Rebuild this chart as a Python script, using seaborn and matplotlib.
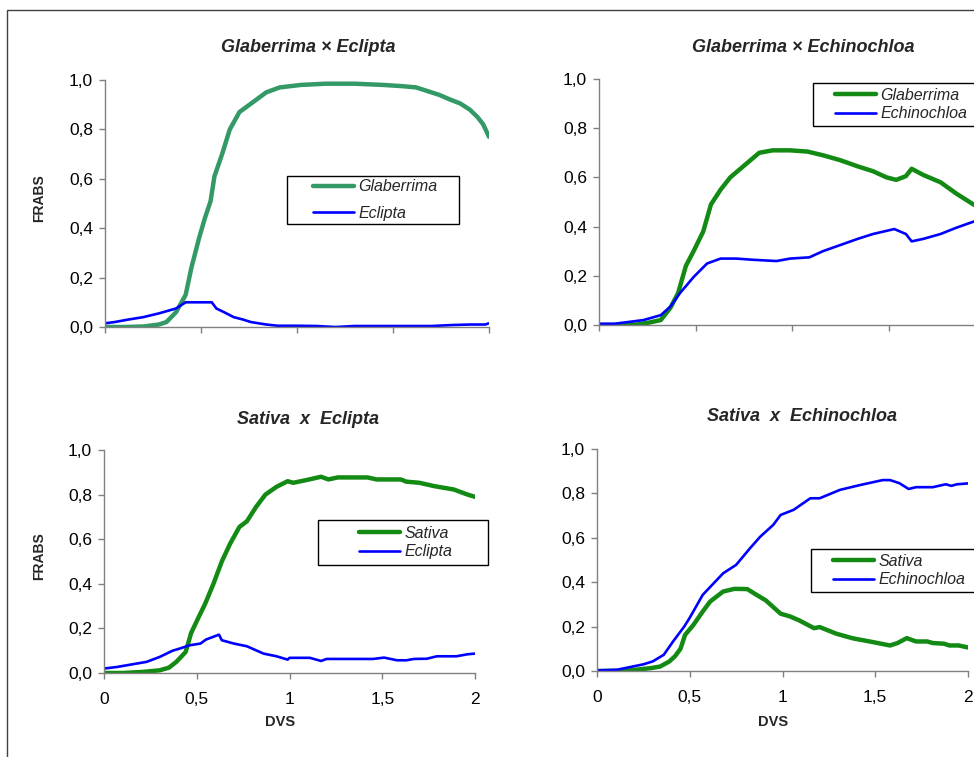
import numpy as np
import pandas as pd
import matplotlib
matplotlib.use("Agg")
import matplotlib.pyplot as plt
from matplotlib.patches import Rectangle
import seaborn as sns

# %%
# data (DVS vs FRABS)
tl_gla_x = [0, 0.1, 0.2, 0.23, 0.28, 0.32, 0.37, 0.42, 0.45, 0.49, 0.52, 0.55, 0.57, 0.61, 0.65, 0.70,
            0.77, 0.84, 0.91, 1.02, 1.15, 1.30, 1.45, 1.55, 1.62, 1.68, 1.74, 1.80, 1.85, 1.90, 1.94, 1.97, 2.0]
tl_gla_y = [0, 0, 0.002, 0.005, 0.01, 0.02, 0.06, 0.13, 0.24, 0.36, 0.44, 0.51, 0.61, 0.70, 0.80, 0.87,
            0.91, 0.95, 0.97, 0.98, 0.985, 0.985, 0.98, 0.975, 0.97, 0.955, 0.94, 0.92, 0.905, 0.88, 0.85, 0.82, 0.77]
tl_ecl_x = [0, 0.05, 0.12, 0.2, 0.28, 0.37, 0.42, 0.50, 0.556, 0.58, 0.62, 0.67, 0.72, 0.76, 0.80, 0.84,
            0.90, 1.0, 1.1, 1.2, 1.3, 1.5, 1.7, 1.81, 1.9, 1.98, 2.0]
tl_ecl_y = [0.015, 0.02, 0.03, 0.04, 0.055, 0.075, 0.10, 0.10, 0.10, 0.075, 0.06, 0.04, 0.03, 0.02, 0.015, 0.01,
            0.005, 0.005, 0.004, 0.0, 0.004, 0.004, 0.004, 0.008, 0.01, 0.01, 0.015]

tr_gla_x = [0, 0.1, 0.2, 0.26, 0.32, 0.37, 0.41, 0.45, 0.49, 0.54, 0.58, 0.63, 0.68, 0.77, 0.83, 0.90,
            0.99, 1.08, 1.16, 1.25, 1.34, 1.42, 1.49, 1.54, 1.59, 1.62, 1.68, 1.77, 1.85, 1.94, 2.0]
tr_gla_y = [0, 0, 0.002, 0.01, 0.02, 0.07, 0.13, 0.24, 0.30, 0.38, 0.49, 0.55, 0.60, 0.66, 0.70, 0.71,
            0.71, 0.705, 0.69, 0.67, 0.645, 0.625, 0.60, 0.59, 0.605, 0.635, 0.61, 0.58, 0.535, 0.49, 0.47]
tr_ech_x = [0, 0.08, 0.13, 0.23, 0.32, 0.37, 0.42, 0.49, 0.56, 0.63, 0.71, 0.80, 0.92, 0.99, 1.09, 1.16,
            1.25, 1.34, 1.42, 1.53, 1.59, 1.62, 1.68, 1.77, 1.85, 1.94, 2.0]
tr_ech_y = [0.005, 0.005, 0.01, 0.02, 0.04, 0.075, 0.13, 0.195, 0.25, 0.27, 0.27, 0.265, 0.26, 0.27, 0.275, 0.30,
            0.325, 0.35, 0.37, 0.39, 0.37, 0.34, 0.35, 0.37, 0.395, 0.42, 0.43]

bl_sat_x = [0, 0.1, 0.21, 0.30, 0.35, 0.39, 0.44, 0.47, 0.51, 0.545, 0.59, 0.635, 0.68, 0.73, 0.77, 0.82,
            0.87, 0.93, 0.99, 1.02, 1.09, 1.17, 1.21, 1.26, 1.42, 1.47, 1.60, 1.63, 1.70, 1.78, 1.885, 1.96, 2.0]
bl_sat_y = [0, 0, 0.005, 0.012, 0.024, 0.05, 0.094, 0.18, 0.25, 0.31, 0.40, 0.50, 0.58, 0.655, 0.68, 0.745,
            0.80, 0.835, 0.86, 0.853, 0.865, 0.88, 0.868, 0.877, 0.877, 0.868, 0.868, 0.858, 0.853, 0.838, 0.823, 0.80, 0.79]
bl_ecl_x = [0, 0.07, 0.16, 0.23, 0.30, 0.37, 0.41, 0.46, 0.52, 0.55, 0.62, 0.635, 0.70, 0.77, 0.86, 0.93,
            0.99, 1.0, 1.11, 1.17, 1.20, 1.45, 1.51, 1.58, 1.63, 1.67, 1.74, 1.795, 1.90, 1.96, 2.0]
bl_ecl_y = [0.02, 0.027, 0.04, 0.05, 0.072, 0.10, 0.11, 0.124, 0.132, 0.15, 0.172, 0.147, 0.132, 0.12, 0.087, 0.075,
            0.06, 0.068, 0.068, 0.054, 0.063, 0.063, 0.069, 0.057, 0.057, 0.063, 0.064, 0.075, 0.075, 0.084, 0.087]

br_sat_x = [0, 0.1, 0.18, 0.29, 0.34, 0.39, 0.42, 0.45, 0.475, 0.52, 0.57, 0.61, 0.68, 0.74, 0.81, 0.86,
            0.91, 0.99, 1.04, 1.09, 1.17, 1.20, 1.29, 1.38, 1.47, 1.58, 1.62, 1.67, 1.72, 1.78, 1.81, 1.87, 1.90, 1.95, 2.0]
br_sat_y = [0, 0, 0.003, 0.013, 0.02, 0.043, 0.066, 0.10, 0.163, 0.208, 0.268, 0.313, 0.358, 0.37, 0.369, 0.343,
            0.318, 0.258, 0.246, 0.228, 0.193, 0.198, 0.168, 0.147, 0.133, 0.115, 0.126, 0.148, 0.133, 0.133, 0.126, 0.123, 0.115, 0.115, 0.106]
br_ech_x = [0, 0.11, 0.18, 0.25, 0.30, 0.36, 0.41, 0.47, 0.50, 0.57, 0.63, 0.68, 0.75, 0.825, 0.88, 0.95,
            0.99, 1.06, 1.15, 1.20, 1.31, 1.42, 1.54, 1.58, 1.63, 1.68, 1.72, 1.81, 1.88, 1.91, 1.94, 2.0]
br_ech_y = [0.003, 0.006, 0.018, 0.03, 0.043, 0.073, 0.133, 0.20, 0.24, 0.343, 0.396, 0.44, 0.478, 0.553, 0.605, 0.658,
            0.703, 0.726, 0.778, 0.778, 0.816, 0.838, 0.86, 0.86, 0.846, 0.82, 0.828, 0.828, 0.841, 0.834, 0.841, 0.845]

y_ticks = [0, 0.2, 0.4, 0.6, 0.8, 1.0]
y_labels = ["0,0", "0,2", "0,4", "0,6", "0,8", "1,0"]
x_ticks = [0, 0.5, 1, 1.5, 2]
x_labels = ["0", "0,5", "1", "1,5", "2"]

# %%
sns.set_style("ticks")
plt.rcParams["font.family"] = ["Liberation Sans", "DejaVu Sans"]

W, H = 974, 757
fig = plt.figure(figsize=(W / 100, H / 100), dpi=100)

def px_axes(left, top, right, bottom):
    return fig.add_axes([left / W, 1 - bottom / H, (right - left) / W, (bottom - top) / H])

def fig_xy(x, y):
    return (x / W, 1 - y / H)

GREEN = "#138a13"
SEA = "#339966"
BLUE = "#0000ff"

panels = [
    dict(box=(105, 80, 489, 327), title="Glaberrima × Eclipta", tx=308, ty=47,
         series=[(tl_gla_x, tl_gla_y, "Glaberrima", SEA, 3.2), (tl_ecl_x, tl_ecl_y, "Eclipta", BLUE, 1.9)],
         leg=(287, 176, 459, 224), hx=313, lsp=0.72, ylab=True, xlab=False),
    dict(box=(599, 79, 985, 325), title="Glaberrima × Echinochloa", tx=803, ty=47,
         series=[(tr_gla_x, tr_gla_y, "Glaberrima", GREEN, 3.2), (tr_ech_x, tr_ech_y, "Echinochloa", BLUE, 1.9)],
         leg=(813, 83, 1010, 126), hx=835, lsp=0.25, ylab=False, xlab=False),
    dict(box=(104, 450, 475, 673), title="Sativa  x  Eclipta", tx=308, ty=419,
         series=[(bl_sat_x, bl_sat_y, "Sativa", GREEN, 3.2), (bl_ecl_x, bl_ecl_y, "Eclipta", BLUE, 1.9)],
         leg=(318, 520, 488, 565), hx=359, lsp=0.2, ylab=True, xlab=True),
    dict(box=(597, 449, 968, 671), title="Sativa  x  Echinochloa", tx=802, ty=417,
         series=[(br_sat_x, br_sat_y, "Sativa", GREEN, 3.2), (br_ech_x, br_ech_y, "Echinochloa", BLUE, 1.9)],
         leg=(811, 549, 1010, 592), hx=833, lsp=0.2, ylab=False, xlab=True),
]

for p in panels:
    l, t, r, b = p["box"]
    ax = px_axes(l, t, r, b)
    for xs, ys, name, col, lw in p["series"]:
        df = pd.DataFrame({"DVS": xs, "FRABS": ys})
        sns.lineplot(data=df, x="DVS", y="FRABS", ax=ax, color=col, linewidth=lw,
                     label=name, estimator=None, sort=False)
    ax.set_xlim(0, 2)
    ax.set_ylim(0, 1)
    ax.set_yticks(y_ticks)
    ax.set_yticklabels(y_labels)
    ax.set_xticks(x_ticks)
    if p["xlab"]:
        ax.set_xticklabels(x_labels)
    else:
        ax.set_xticklabels([])
    ax.tick_params(labelsize=12.5, length=4.5, width=1, color="#808080", colors="black", pad=4)
    ax.tick_params(axis="x", pad=9)
    for side in ["top", "right"]:
        ax.spines[side].set_visible(False)
    for side in ["left", "bottom"]:
        ax.spines[side].set_color("#808080")
        ax.spines[side].set_linewidth(1)
    ax.set_xlabel("")
    ax.set_ylabel("")
    handles, labels = ax.get_legend_handles_labels()
    ax.get_legend().remove()

    fig.text(*fig_xy(p["tx"], p["ty"]), p["title"], ha="center", va="center",
             fontsize=13, fontweight="bold", fontstyle="italic")
    if p["ylab"]:
        fig.text(*fig_xy(39, (t + b) / 2 - 5), "FRABS", rotation=90, ha="center", va="center",
                 fontsize=10, fontweight="bold")
    if p["xlab"]:
        fig.text(*fig_xy((l + r) / 2 - 9, 722), "DVS", ha="center", va="center",
                 fontsize=10.5, fontweight="bold")

    # legend box + entries
    x0, y0, x1, y1 = p["leg"]
    fig.add_artist(Rectangle(fig_xy(x0, y1), (x1 - x0) / W, (y1 - y0) / H, transform=fig.transFigure,
                             fill=True, facecolor="white", edgecolor="black", linewidth=1, zorder=5))
    leg = fig.legend(handles, labels, loc="center left", bbox_to_anchor=fig_xy(p["hx"], (y0 + y1) / 2),
                     bbox_transform=fig.transFigure, frameon=False, borderpad=0, borderaxespad=0,
                     handlelength=2.55, handletextpad=0.3, labelspacing=p["lsp"],
                     prop={"size": 11.5, "style": "italic"})
    leg.set_zorder(6)

# outer frame of the original graphic
fig.add_artist(Rectangle(fig_xy(7, 800), 1.1, (800 - 10) / H, transform=fig.transFigure,
                         fill=False, edgecolor="#404040", linewidth=1))

fig.savefig("out.png", dpi=100)
